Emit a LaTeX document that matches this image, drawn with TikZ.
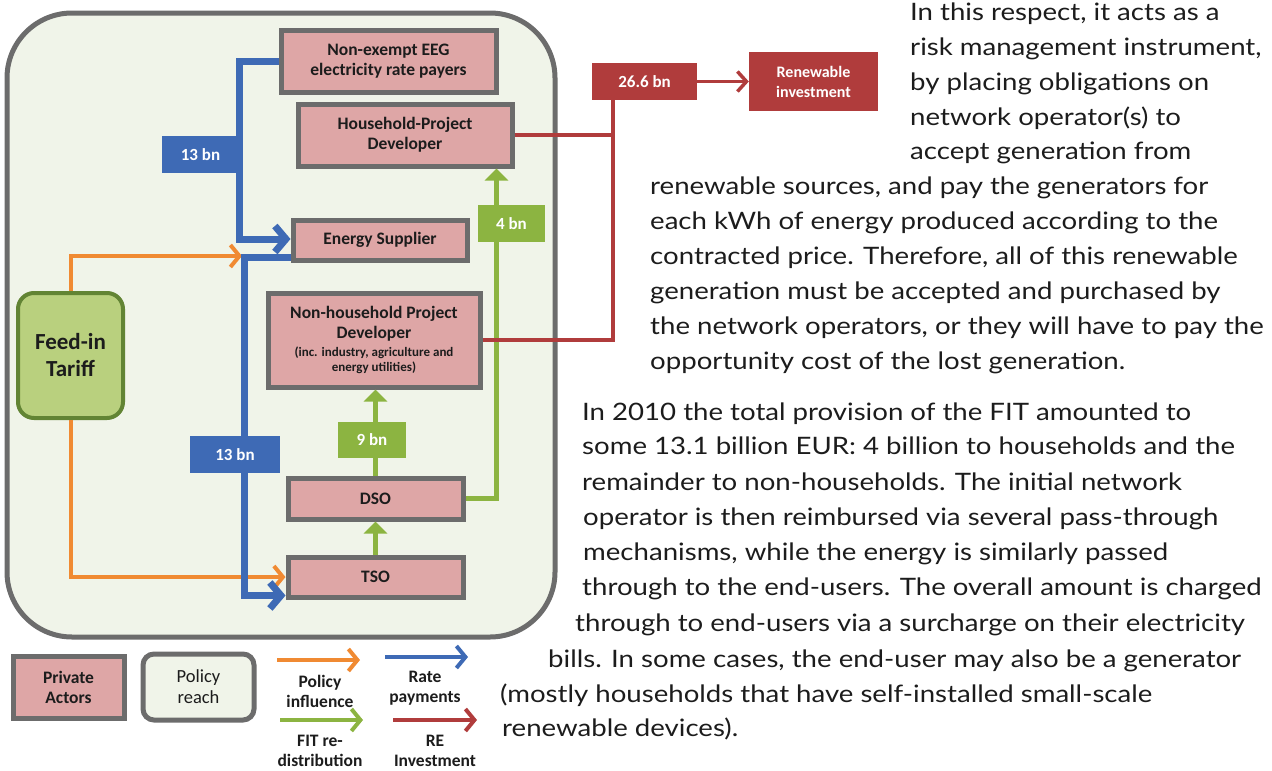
\documentclass[tikz,border=0pt]{standalone}
\usepackage{fontspec}
\setmainfont{Carlito}
\newfontfamily\bodyfont[FakeStretch=1.15]{Lato}
\usetikzlibrary{arrows.meta}
\definecolor{pinkfill}{RGB}{222,166,166}
\definecolor{boxline}{RGB}{108,108,108}
\definecolor{reachfill}{RGB}{240,244,233}
\definecolor{ftfill}{RGB}{185,208,126}
\definecolor{ftline}{RGB}{98,132,52}
\definecolor{rateblue}{RGB}{62,106,181}
\definecolor{polorange}{RGB}{240,138,50}
\definecolor{fitgreen}{RGB}{140,180,65}
\definecolor{rered}{RGB}{176,60,60}
\definecolor{inktext}{RGB}{28,28,28}
\newcommand{\smallnote}[1]{{\fontsize{13}{16}\selectfont #1}}
\begin{document}
\begin{tikzpicture}[x=1pt,y=-1pt,
  actor/.style={draw=boxline, line width=5pt, fill=pinkfill, align=center,
    text=inktext, inner sep=0pt, font=\bfseries\fontsize{17.5}{20}\selectfont},
  amount/.style={fill=#1, text=white, inner sep=0pt,
    font=\bfseries\fontsize{17}{20}\selectfont},
  ratepay/.style={draw=rateblue, line width=7pt,
    -{Straight Barb[length=11pt,width=26pt]}},
  influence/.style={draw=polorange, line width=4pt,
    -{Straight Barb[length=9pt,width=22pt]}},
  redist/.style={draw=fitgreen, line width=4.5pt,
    -{Triangle[length=12pt,width=23pt]}},
  reinvest/.style={draw=rered, line width=3.5pt},
  reinvarrow/.style={reinvest, -{Straight Barb[length=9pt,width=20pt]}},
  legendtext/.style={align=center, text=inktext, inner sep=0pt,
    font=\bfseries\fontsize{17.5}{20}\selectfont},
  body/.style={anchor=base west, inner sep=0pt, text=inktext,
    font=\bodyfont\fontsize{24}{35}\selectfont}
]
\useasboundingbox (0,0) rectangle (1272,771);

% policy reach frame
\node[draw=boxline, line width=5pt, fill=reachfill, rounded corners=65pt,
  minimum width=548pt, minimum height=624pt] (reach) at (281,325) {};

% actors
\node[actor, minimum width=215pt, minimum height=62pt] (ne) at (388.5,61)
  {Non-exempt EEG\\electricity rate payers};
\node[actor, minimum width=214pt, minimum height=62pt] (hp) at (405,135)
  {Household-Project\\Developer};
\node[actor, minimum width=174pt, minimum height=40pt] (es) at (380,240)
  {Energy Supplier};
\node[actor, minimum width=212pt, minimum height=94pt] (nh) at (374,340)
  {Non-household Project\\Developer\\[-2pt]\smallnote{(inc. industry, agriculture and}\\[-5pt]\smallnote{energy utilities)}};
\node[actor, minimum width=175pt, minimum height=41pt] (dso) at (375.5,498.5) {DSO};
\node[actor, minimum width=175pt, minimum height=40pt] (tso) at (375.5,577) {TSO};

\node[draw=ftline, line width=4pt, fill=ftfill, rounded corners=16pt,
  minimum width=105pt, minimum height=125pt, align=center, text=inktext,
  font=\bfseries\fontsize{23}{27}\selectfont] (ft) at (70.5,355.5) {Feed-in\\Tariff};

\node[amount=rered, minimum width=105pt, minimum height=37pt] (total) at (644.5,81.5) {26.6 bn};
\node[amount=rered, minimum width=129pt, minimum height=59pt, align=center,
  font=\bfseries\fontsize{16}{20}\selectfont] (ri) at (813.5,81.5) {Renewable\\investment};

% policy influence
\coordinate (oin) at (242,256);
\draw[influence] (ft.north) |- (oin);
\draw[influence] (ft.south) |- (tso.west);

% rate payments
\draw[ratepay] (ne.west) -- ++(-39,0) |- ([yshift=1pt]es.west);
\draw[ratepay] ([yshift=5pt]es.south west) -- ++(-46,0) |- ([yshift=4pt]tso.south west);

% FIT redistribution
\draw[redist] (tso.north) -- (dso.south);
\draw[redist] (dso.north) -- (dso.north |- nh.south);
\draw[redist] (dso.east) -| ([xshift=-18pt]hp.south east);

% RE investment
\draw[reinvest] (hp.east) -| ([xshift=21pt]total.south west);
\draw[reinvest] (nh.east) -| ([xshift=21pt]total.south west);
\draw[reinvarrow] (total.east) -- (ri.west);

% amount labels
\node[amount=rateblue, minimum width=77pt, minimum height=37pt] (ratetop) at (200.5,154.5) {13 bn};
\node[amount=rateblue, minimum width=90pt, minimum height=37pt] (ratelow) at (235,454.5) {13 bn};
\node[amount=fitgreen, minimum width=68pt, minimum height=36pt] (fitnh) at (372,440) {9 bn};
\node[amount=fitgreen, minimum width=67pt, minimum height=37pt] (fithp) at (511.5,223.5) {4 bn};

% legend
\node[actor, minimum width=111pt, minimum height=62pt] (lgactor) at (68.5,687) {Private\\Actors};
\node[draw=boxline, line width=5pt, fill=reachfill, rounded corners=11pt,
  minimum width=111pt, minimum height=66pt, align=center, text=inktext,
  font=\fontsize{18.5}{21}\selectfont] (lgreach) at (198.5,687) {Policy\\reach};
\coordinate (lo1) at (277,660); \coordinate (lo2) at (360,660);
\coordinate (lb1) at (385,657); \coordinate (lb2) at (468,657);
\coordinate (lg1) at (280,720); \coordinate (lg2) at (363,720);
\coordinate (lr1) at (393,720); \coordinate (lr2) at (477,720);
\draw[influence, line width=4pt] (lo1) -- (lo2);
\draw[draw=rateblue, line width=4pt, -{Straight Barb[length=9pt,width=22pt]}] (lb1) -- (lb2);
\draw[draw=fitgreen, line width=4pt, -{Straight Barb[length=9pt,width=22pt]}] (lg1) -- (lg2);
\draw[draw=rered, line width=4pt, -{Straight Barb[length=9pt,width=22pt]}] (lr1) -- (lr2);
\node[legendtext] (lgtinf) at (320,691) {Policy\\influence};
\node[legendtext] (lgtrate) at (425,688) {Rate\\payments};
\node[legendtext] (lgtfit) at (320,751) {FIT re-\\distribution};
\node[legendtext] (lgtre) at (435,751) {RE\\Investment};

% running text
\node[body] (t1) at (910,20) {In this respect, it acts as a};
\node[body] (t2) at (910,55) {risk management instrument,};
\node[body] (t3) at (910,90) {by placing obligations on};
\node[body] (t4) at (910,125) {network operator(s) to};
\node[body] (t5) at (910,159) {accept generation from};
\node[body] (t6) at (650,194) {renewable sources, and pay the generators for};
\node[body] (t7) at (650,229) {each kWh of energy produced according to the};
\node[body] (t8) at (650,264) {contracted price. Therefore, all of this renewable};
\node[body] (t9) at (650,299) {generation must be accepted and purchased by};
\node[body] (t10) at (650,334) {the network operators, or they will have to pay the};
\node[body] (t11) at (650,369) {opportunity cost of the lost generation.};
\node[body] (u1) at (582,420) {In 2010 the total provision of the FIT amounted to};
\node[body] (u2) at (582,454) {some 13.1 billion EUR: 4 billion to households and the};
\node[body] (u3) at (582,490) {remainder to non-households. The initial network};
\node[body] (u4) at (583,525) {operator is then reimbursed via several pass-through};
\node[body] (u5) at (583,560) {mechanisms, while the energy is similarly passed};
\node[body] (u6) at (582,595) {through to the end-users. The overall amount is charged};
\node[body] (u7) at (575,631) {through to end-users via a surcharge on their electricity};
\node[body] (u8) at (548,667) {bills. In some cases, the end-user may also be a generator};
\node[body] (u9) at (500,702) {(mostly households that have self-installed small-scale};
\node[body] (u10) at (502,736) {renewable devices).};
\end{tikzpicture}
\end{document}
